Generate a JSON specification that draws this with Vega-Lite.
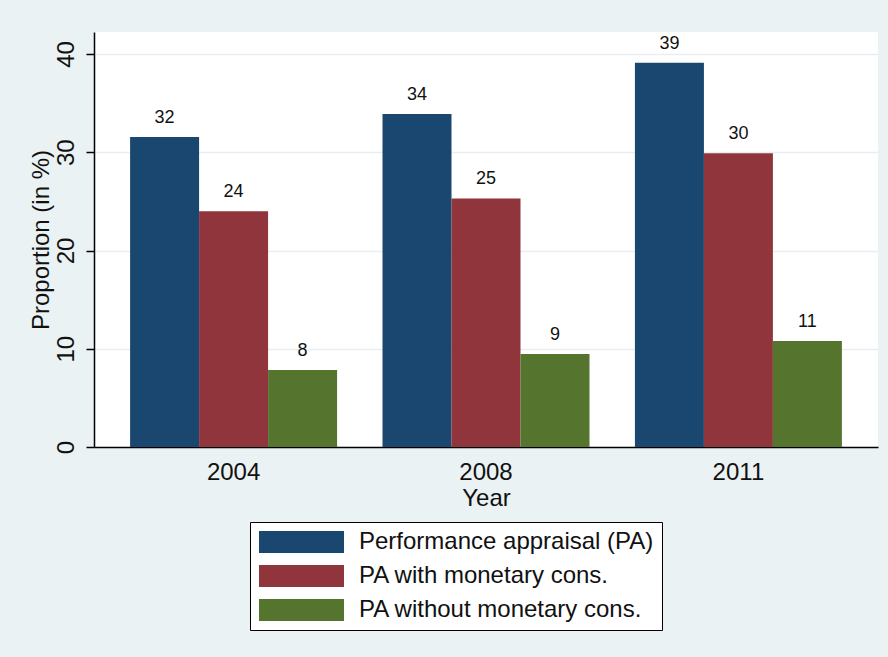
{
  "$schema": "https://vega.github.io/schema/vega-lite/v6.json",
  "width": 784,
  "height": 415,
  "autosize": {"type": "none"},
  "padding": {"left": 94, "top": 32, "right": 10, "bottom": 210},
  "background": "#EAF2F3",
  "config": {
    "font": "Liberation Sans",
    "view": {"fill": "white", "stroke": null}
  },
  "data": {
    "values": [
      {"year": "2004", "series": "Performance appraisal (PA)", "value": 31.55},
      {"year": "2004", "series": "PA with monetary cons.", "value": 24.0},
      {"year": "2004", "series": "PA without monetary cons.", "value": 7.84},
      {"year": "2008", "series": "Performance appraisal (PA)", "value": 33.9},
      {"year": "2008", "series": "PA with monetary cons.", "value": 25.3},
      {"year": "2008", "series": "PA without monetary cons.", "value": 9.47},
      {"year": "2011", "series": "Performance appraisal (PA)", "value": 39.1},
      {"year": "2011", "series": "PA with monetary cons.", "value": 29.9},
      {"year": "2011", "series": "PA without monetary cons.", "value": 10.8}
    ]
  },
  "encoding": {
    "x": {
      "field": "year",
      "type": "nominal",
      "title": "Year",
      "scale": {"paddingInner": 0.18, "paddingOuter": 0.143},
      "axis": {
        "labelAngle": 0,
        "labelFontSize": 24,
        "labelColor": "#111",
        "labelPadding": 13,
        "ticks": false,
        "domainColor": "black",
        "domainWidth": 1.5,
        "titleFontSize": 24,
        "titleFontWeight": "normal",
        "titleColor": "#111",
        "titlePadding": 2
      }
    },
    "xOffset": {
      "field": "series",
      "type": "nominal",
      "sort": ["Performance appraisal (PA)", "PA with monetary cons.", "PA without monetary cons."],
      "scale": {"paddingInner": 0, "paddingOuter": 0}
    },
    "y": {
      "field": "value",
      "type": "quantitative",
      "title": "Proportion (in %)",
      "scale": {"domain": [0, 42.24], "nice": false, "zero": true},
      "axis": {
        "values": [0, 10, 20, 30, 40],
        "labelAngle": -90,
        "labelAlign": "center",
        "labelBaseline": "bottom",
        "labelFontSize": 24,
        "labelColor": "#111",
        "labelPadding": 8,
        "tickSize": 8,
        "tickColor": "black",
        "tickWidth": 1.5,
        "domainColor": "black",
        "domainWidth": 1.5,
        "grid": true,
        "gridColor": "#E6EEF1",
        "gridWidth": 1.5,
        "titleFontSize": 24,
        "titleFontWeight": "normal",
        "titleColor": "#111",
        "titlePadding": 1
      }
    }
  },
  "layer": [
    {
      "mark": {"type": "bar"},
      "encoding": {
        "color": {
          "field": "series",
          "type": "nominal",
          "sort": ["Performance appraisal (PA)", "PA with monetary cons.", "PA without monetary cons."],
          "scale": {
            "domain": ["Performance appraisal (PA)", "PA with monetary cons.", "PA without monetary cons."],
            "range": ["#1A476F", "#90353B", "#55752F"]
          },
          "legend": {
            "title": null,
            "orient": "none",
            "legendX": 156,
            "legendY": 490,
            "direction": "vertical",
            "padding": 8,
            "strokeColor": "black",
            "fillColor": "white",
            "symbolType": "M-1,-1H6.727V1H-1Z",
            "symbolSize": 484,
            "symbolStrokeWidth": 0,
            "labelFontSize": 24,
            "labelColor": "#111",
            "labelLimit": 600,
            "labelOffset": 77,
            "rowPadding": 10
          }
        }
      }
    },
    {
      "mark": {"type": "text", "dy": -14, "baseline": "alphabetic", "fontSize": 18, "color": "#111"},
      "encoding": {
        "text": {"field": "value", "type": "quantitative", "format": ".0f"}
      }
    }
  ]
}
